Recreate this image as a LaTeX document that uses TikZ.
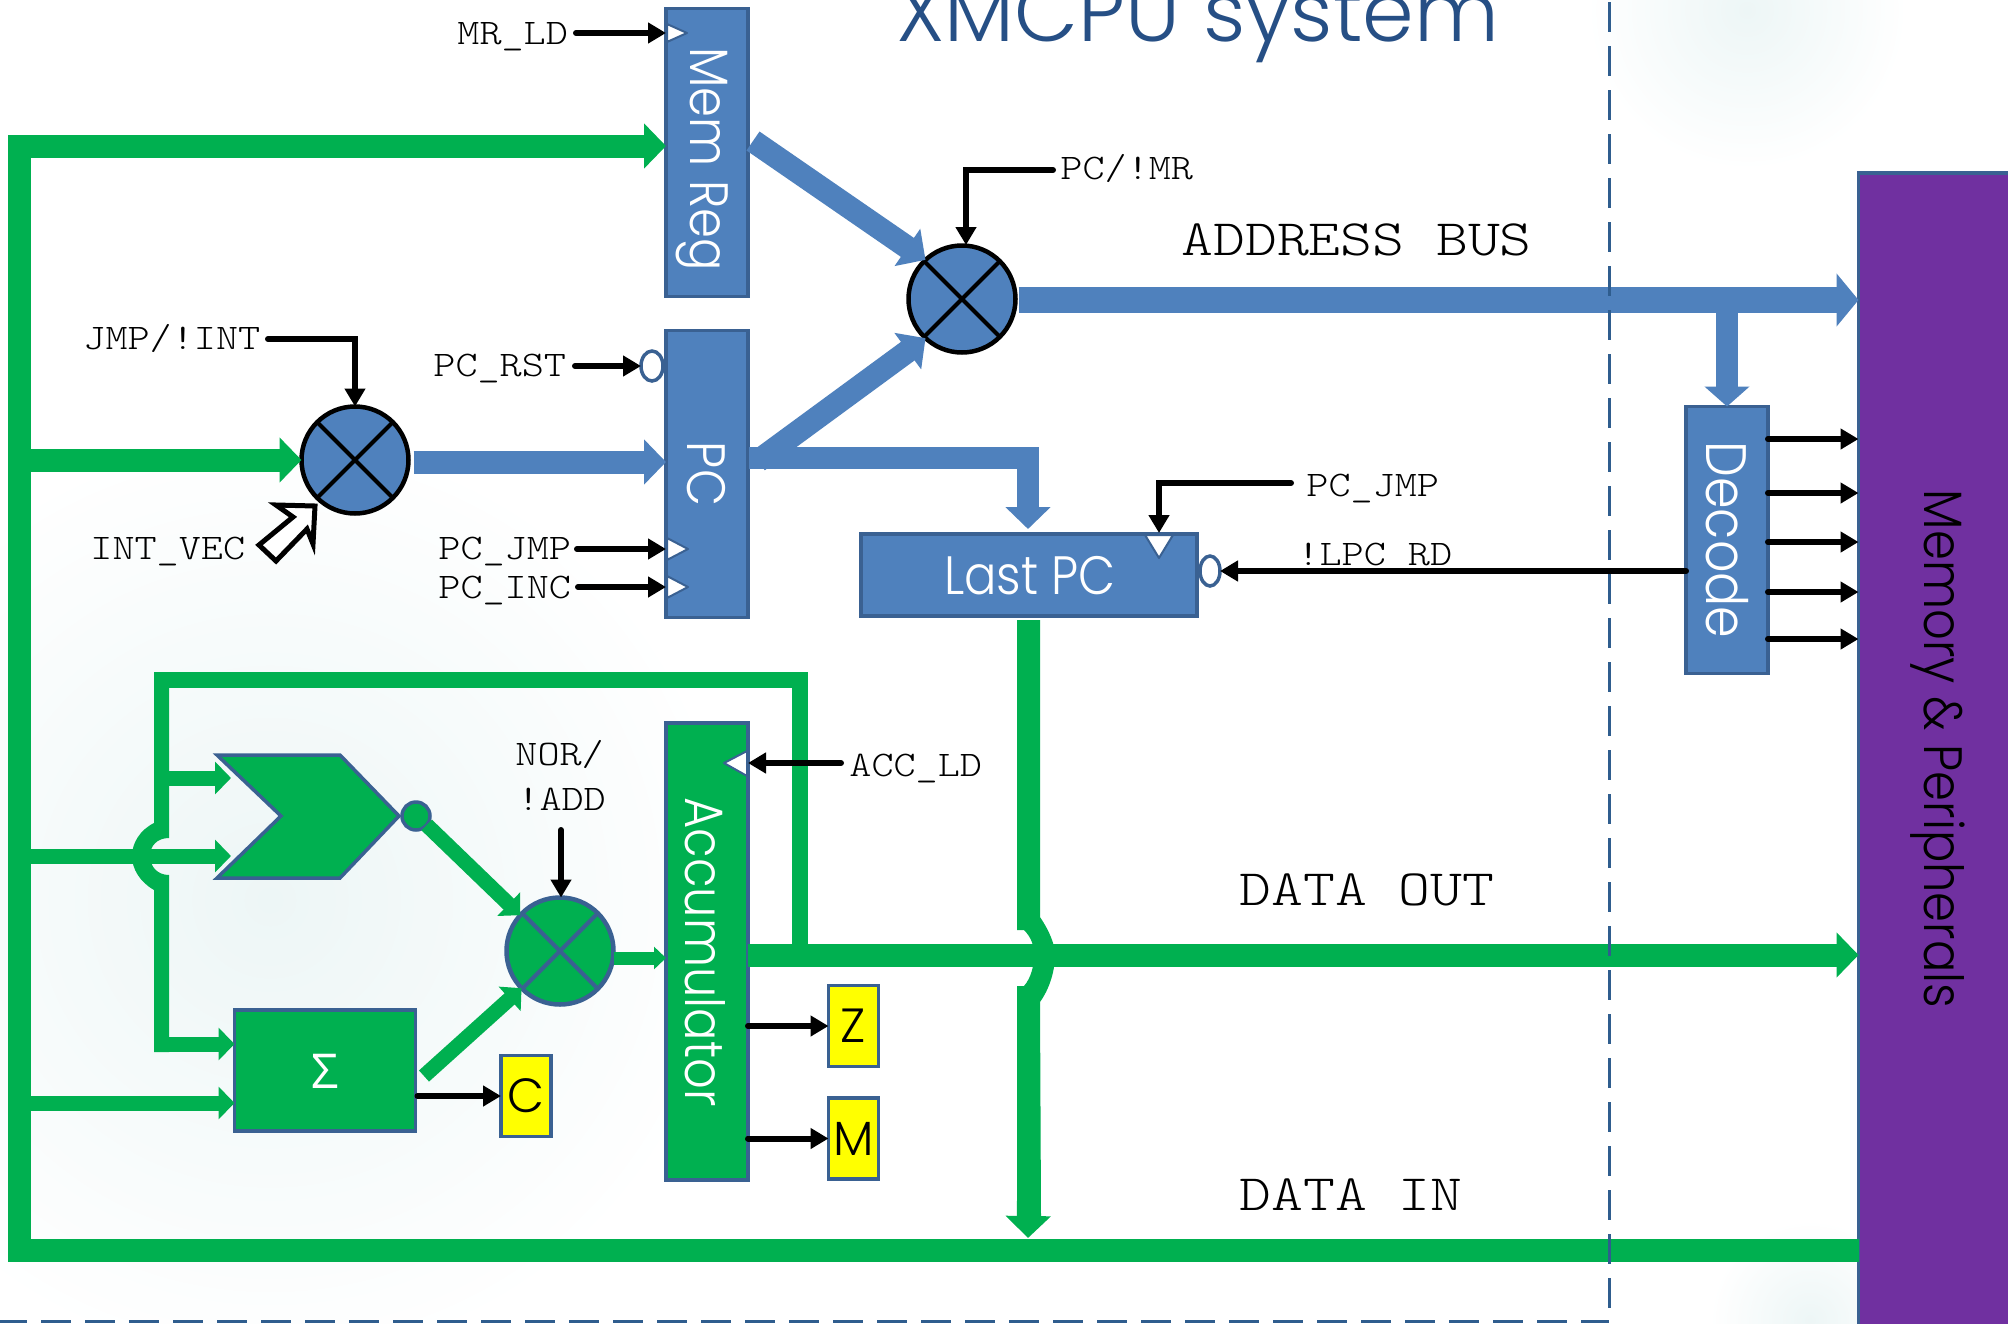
\documentclass[tikz,border=0pt]{standalone}
\usepackage{fontspec}
\usetikzlibrary{arrows.meta,shapes.geometric}
\newfontfamily\gothic{Poppins Light}
\newfontfamily\gothicn{Poppins Light}[FakeStretch=0.89]
\newfontfamily\sigfam{Latin Modern Mono Light}[FakeStretch=1.17]
\newfontfamily\bigfam{Latin Modern Mono Light}[FakeStretch=1.19]
\newfontfamily\greekfam{Open Sans}
\definecolor{cblue}{HTML}{4F81BD}
\definecolor{cbord}{HTML}{3A6192}
\definecolor{cgreen}{HTML}{00B050}
\definecolor{cpurple}{HTML}{7030A0}
\definecolor{ctitle}{HTML}{264F85}
\definecolor{cdash}{HTML}{2F5D8E}
\definecolor{cbg}{HTML}{EDF6F6}
\definecolor{cyel}{HTML}{FFFF00}
\tikzset{
  box/.style={draw=cbord,line width=1.75pt,inner sep=0pt,outer sep=0pt},
  bluebox/.style={box,fill=cblue},
  greenbox/.style={box,fill=cgreen},
  flag/.style={box,fill=cyel,font=\gothic\fontsize{24}{24}\selectfont,text=black,minimum width=25pt,minimum height=40.5pt},
  muxnode/.style={circle,draw=#1,line width=2.25pt,minimum size=53.5pt,inner sep=0pt,outer sep=0pt,
    path picture={\draw[#1,line width=2pt] (path picture bounding box.north west) -- (path picture bounding box.south east)
      (path picture bounding box.north east) -- (path picture bounding box.south west);}},
  boxtext/.style={font=\gothicn\fontsize{27}{27}\selectfont,text=white,inner sep=0pt},
  vtext/.style={boxtext,rotate=-90},
  sig/.style={font=\sigfam\fontsize{18}{18}\selectfont,inner sep=0pt,anchor=base west,text=black},
  bigsig/.style={font=\bigfam\fontsize{25.5}{25.5}\selectfont,inner sep=0pt,anchor=base west,text=black},
  bigbus/.style={draw=#1,line width=11.5pt,-{Triangle[length=11pt,width=22pt]}},
  plainbus/.style={draw=#1,line width=11.5pt},
  thinbus/.style={draw=cgreen,line width=7.5pt,-{Triangle[length=8pt,width=16pt]}},
  wire/.style={draw=black,line width=3pt,line cap=round,-{Triangle[length=9pt,width=10pt]}},
  clk/.style={fill=white,draw=cbord,line width=1pt,line join=round},
  dashline/.style={draw=cdash,line width=1.5pt,dash pattern=on 15pt off 7pt},
}
\begin{document}
\begin{tikzpicture}[x=0.5pt,y=-0.5pt]
\useasboundingbox (0,0) rectangle (2008,1323);
\clip (0,0) rectangle (2008,1323);
\fill[white] (0,0) rectangle (2008,1323);
% faint background swirls
\shade[inner color=cbg,outer color=white] (270,900) circle[radius=235pt];
\shade[inner color=cbg,outer color=white] (1747,10) circle[radius=80pt];
\shade[inner color=cbg,outer color=white] (1810,1320) circle[radius=50pt];
% title
\node[font=\gothic\fontsize{41.5}{44}\selectfont,text=ctitle,inner sep=0pt,anchor=base west] (title) at (896,41) {XMCPU system};

% blocks
\node[bluebox,minimum width=41pt,minimum height=144pt] (memreg) at (707,152.5) {};
\node[bluebox,minimum width=41pt,minimum height=143.5pt] (pc) at (707,474) {};
\node[bluebox,minimum width=168pt,minimum height=41pt] (lastpc) at (1029,575) {};
\node[bluebox,minimum width=41pt,minimum height=133.5pt] (decode) at (1727,540) {};
\node[box,fill=cpurple,minimum width=90pt,minimum height=600pt] (mem) at (1948.5,773) {};
\node[greenbox,minimum width=41pt,minimum height=228.5pt] (acc) at (707,951.5) {};
\node[greenbox,minimum width=90.5pt,minimum height=60.5pt] (sum) at (325,1070.5) {};
\node[flag] (cflag) at (526,1096) {C};
\node[flag] (zflag) at (853.5,1026) {Z};
\node[flag] (mflag) at (853.5,1138.5) {M};

% muxes
\node[muxnode=black,fill=cblue] (m1) at (962,299) {};
\node[muxnode=black,fill=cblue] (m2) at (355,460) {};
\node[muxnode=cbord,fill=cgreen] (m3) at (560,951) {};

% junction coordinates
\coordinate (tl) at (19,146);
\coordinate (bl) at (19,1250);
\coordinate (mrout) at (753,141);
\coordinate (pcout) at (749,458);
\coordinate (pcdiag) at (758,461);
\coordinate (lpcturn) at (1028,458);
\coordinate (addrjoin) at (1727,300);
\coordinate (fbr) at (800,955);
\coordinate (fbtr) at (800,680);
\coordinate (fbtl) at (161,680);
\coordinate (fbdn) at (161,1044);
\coordinate (sumout) at (424,1076);
\coordinate (dinj) at (1028,1238);
\coordinate (gateA) at (231,778);
\coordinate (gateB) at (231,856);

% data in, left rail
\draw[plainbus=cgreen,line join=miter] (tl) -- (bl) -- (mem.west |- bl);
\fill[cgreen] (8,135) rectangle (30,157);
\fill[cgreen] (8,1238) rectangle (30,1262);
\draw[bigbus=cgreen] (tl) -- (memreg.west |- tl);
\draw[bigbus=cgreen] (tl |- m2) -- (m2.west);
\draw[bigbus=cblue] (m2.east) ++(5,2) coordinate (m2out) -- (pc.west |- m2out);
\draw[thinbus] (tl |- gateB) -- (gateB);
\draw[thinbus] (tl |- 0,1103) -- (sum.west |- 0,1103);
% feedback loop
\draw[draw=cgreen,line width=8pt] (fbtl) -- (fbtr) -- (fbr);
\fill[cgreen] (154,672) -- (154,823) .. controls (140,830) and (132,843) .. (132,856)
  .. controls (132,869) and (140,882) .. (154,890) -- (154,1052) -- (169,1052) -- (169,875)
  .. controls (157,875) and (150,866) .. (150,856) .. controls (150,846) and (157,838) .. (169,838)
  -- (169,672) -- cycle;
\draw[thinbus] (fbtl |- gateA) -- (gateA);
\draw[thinbus] (fbdn) -- (sum.west |- fbdn);
% gate
\draw[box,fill=cgreen,line join=miter] (217,755) coordinate (gate) -- (340,755) -- (399,816) -- (340,878) -- (217,878) -- (281,816) -- cycle;
\node[circle,draw=cbord,fill=cgreen,line width=1.75pt,minimum size=14pt,inner sep=0pt,outer sep=0pt] (gbub) at (416,816) {};
\draw[thinbus] (gbub.-40) -- (m3.138);
\draw[thinbus] (sumout) -- (m3.224);
\draw[draw=cgreen,line width=6.5pt,-{Triangle[length=6pt,width=11pt]}] (m3.east |- 0,958) -- (acc.west |- 0,958);
% data out
\draw[bigbus=cgreen] (acc.east |- fbr) -- (mem.west |- fbr);
% data in from last pc with hop
\fill[cgreen] (1017,620) -- (1040,620) -- (1040,917) .. controls (1050,932) and (1055,945) .. (1055,955)
  .. controls (1055,970) and (1050,988) .. (1040,1002) -- (1041,1216) -- (1017,1216) -- (1017,986) -- (1024,986)
  .. controls (1031,978) and (1034,966) .. (1034,955) .. controls (1034,945) and (1031,937) .. (1024,930)
  -- (1017,930) -- cycle;
\draw[bigbus=cgreen] (1028.5,1200) -- (dinj);
% blue buses
\draw[bigbus=cblue] (mrout) -- (m1.133);
\draw[bigbus=cblue] (pcdiag) -- (m1.227);
\draw[draw=cblue,line width=11pt,line join=miter,-{Triangle[length=11pt,width=22pt]}] (pcout) -- (lpcturn) -- (lpcturn |- 0,529);
\draw[draw=cblue,line width=13pt,-{Triangle[length=11pt,width=26pt]}] (m1.east) ++(3,1) coordinate (m1out) -- (mem.west |- m1out);
\draw[draw=cblue,line width=11pt,-{Triangle[length=10pt,width=22pt]}] (addrjoin) -- (decode.north);

% dashed frame
\draw[dashline] (1609,2) coordinate (dtop) -- (1609,1321) coordinate (dbot);
\draw[dashline] (-3,1321) coordinate (dleft) -- (dbot);

% control wires
\coordinate (mrldS) at (576,33);
\coordinate (pcrstS) at (575,366);
\coordinate (pcjmpS) at (577,549);
\coordinate (pcincS) at (578,587);
\coordinate (jmpS) at (268,339);
\coordinate (pcmrS) at (1053,170);
\coordinate (pcjmprS) at (1291,483);
\coordinate (norS) at (561,830);
\coordinate (accldS) at (841,763);
\node[ellipse,draw=cbord,fill=white,line width=1.75pt,minimum width=11pt,minimum height=15pt,inner sep=0pt,outer sep=0pt] (rstb) at (652,366) {};
\node[ellipse,draw=cbord,fill=white,line width=1.75pt,minimum width=10pt,minimum height=15pt,inner sep=0pt,outer sep=0pt] (lpcb) at (1210,571) {};
\draw[wire] (mrldS) -- (memreg.west |- mrldS);
\draw[wire] (pcrstS) -- (rstb.west);
\draw[wire] (pcjmpS) -- (pc.west |- pcjmpS);
\draw[wire] (pcincS) -- (pc.west |- pcincS);
\draw[wire,line join=miter] (jmpS) -| (m2.north);
\draw[wire,line join=miter] (pcmrS) -- (966,170) -- (966,245);
\draw[wire,line join=miter] (pcjmprS) -- (1159,483) -- (1159,533);
\draw[wire] (norS) -- (m3.north -| norS);
\draw[wire] (accldS) -- (acc.east |- accldS);
\draw[wire] (decode.west |- lpcb) -- (lpcb.east);
\foreach \yy in {439,493,542,592,639} \draw[wire] (decode.east |- 0,\yy) -- (mem.west |- 0,\yy);
\draw[wire] (sum.east |- cflag) ++(2,0) coordinate (cS) -- (cflag.west);
\draw[wire] (acc.east |- zflag) -- (zflag.west);
\draw[wire] (acc.east |- mflag) -- (mflag.west);

% clock marks
\draw[clk] (667,24) -- (687,33) -- (667,42) -- cycle;
\draw[clk] (667,538) -- (688,549) -- (667,560) -- cycle;
\draw[clk] (667,576) -- (688,587) -- (667,598) -- cycle;
\draw[clk] (1145,535) -- (1173,535) -- (1159,558) -- cycle;
\draw[clk] (747,751) -- (724,763) -- (747,776) -- cycle;

% interrupt-vector hollow arrow
\draw[draw=black,fill=white,line width=2.5pt,line join=miter] (315,506) -- (276,505) -- (293,517) -- (259,545) -- (276,561) -- (307,529) -- (313,544) -- cycle;

% block captions
\node[vtext] (tmem) at (702,159) {Mem Reg};
\node[vtext] (tpc) at (706,474) {PC};
\node[vtext] (tacc) at (705,952) {Accumulator};
\node[vtext,font=\gothicn\fontsize{28.5}{28.5}\selectfont] (tdec) at (1727,540) {Decode};
\node[boxtext] (tlast) at (1030,576) {Last PC};
\node[vtext,text=black] (tperi) at (1938,749) {Memory \& Peripherals};
\node[font=\greekfam\fontsize{24}{24}\selectfont,text=white,inner sep=0pt] (tsum) at (325,1071) {Σ};

% signal labels
\node[sig] (lmrld) at (457,44) {MR\_LD};
\node[sig] (ljmp) at (83,349) {JMP/!INT};
\node[sig] (lrst) at (433,376) {PC\_RST};
\node[sig] (lint) at (90,559) {INT\_VEC};
\node[sig] (ljmp2) at (438,559) {PC\_JMP};
\node[sig] (linc) at (438,598) {PC\_INC};
\node[sig] (lmr) at (1060,179) {PC/!MR};
\node[sig] (ljmp3) at (1306,496) {PC\_JMP};
\node[sig] (lrd) at (1297,565) {!LPC\_RD};
\node[sig] (lnor) at (515,765) {NOR/};
\node[sig] (ladd) at (517,810) {!ADD};
\node[sig] (lacc) at (849,776) {ACC\_LD};
\node[bigsig] (laddr) at (1181,255) {ADDRESS BUS};
\node[bigsig] (ldout) at (1239,905) {DATA OUT};
\node[bigsig] (ldin) at (1239,1210) {DATA IN};
\end{tikzpicture}
\end{document}
